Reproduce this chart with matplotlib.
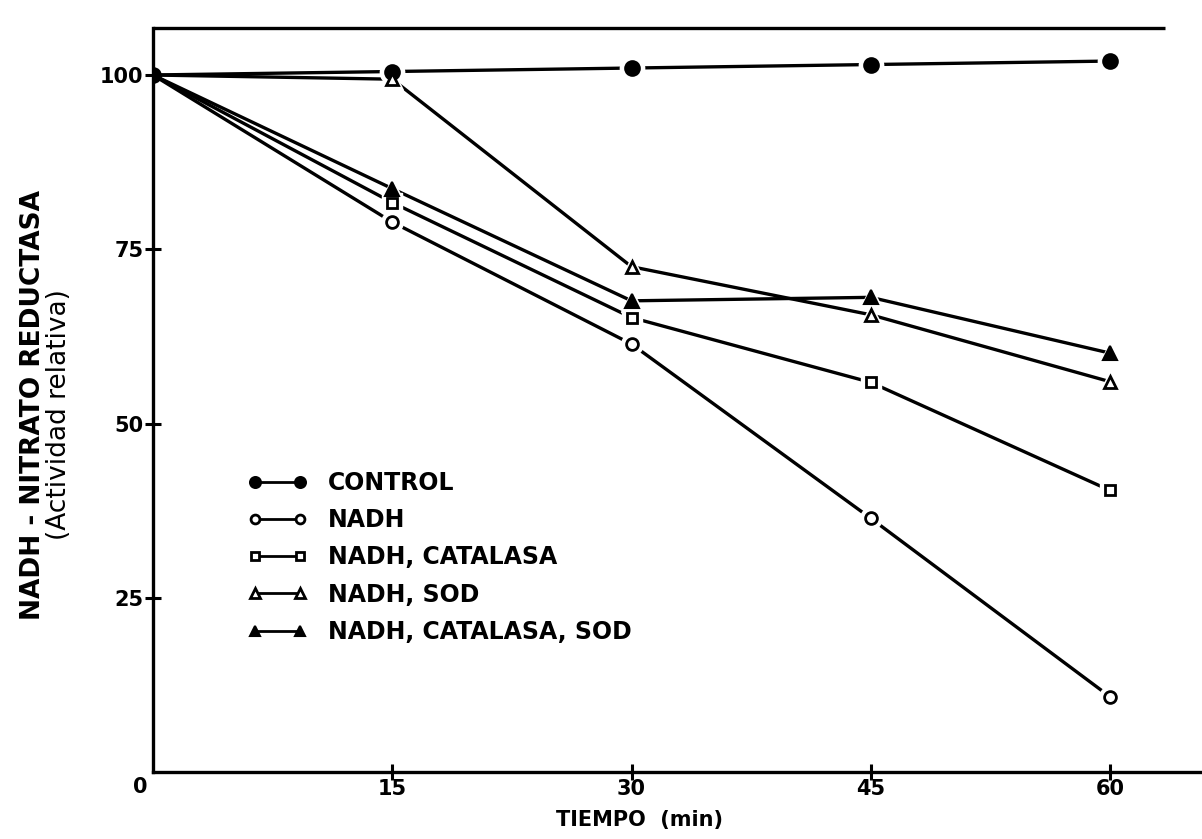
import matplotlib
matplotlib.use("Agg")
import matplotlib.pyplot as plt

# ---- data ----
time = [0, 15, 30, 45, 60]
control = [100, 100.5, 101, 101.5, 102]
nadh = [100, 78.9, 61.4, 36.4, 10.8]
nadh_cat = [100, 81.7, 65.2, 55.9, 40.4]
nadh_sod = [100, 99.4, 72.5, 65.6, 56.0]
nadh_cat_sod = [100, 83.7, 67.6, 68.1, 60.1]

labels = ["CONTROL", "NADH", "NADH, CATALASA", "NADH, SOD", "NADH, CATALASA, SOD"]
x_ticks = [15, 30, 45, 60]
y_ticks = [25, 50, 75, 100]

plt.rcParams['font.family'] = ['DejaVu Sans']
plt.rcParams['font.weight'] = 'bold'

W, H = 1202, 839
fig = plt.figure(figsize=(W / 100, H / 100), dpi=100)
fig.patch.set_facecolor('white')

x0, x1 = 153, 1202
y0, y1 = 772, 28
ax = fig.add_axes([x0 / W, 1 - y0 / H, (x1 - x0) / W, (y0 - y1) / H])
ax.set_xlim(0, (x1 - x0) / 15.95)
ax.set_ylim(0, (y0 - y1) / 6.97)

series = [
    (control, dict(marker='o', mfc='black', mec='black', ms=10.5, mew=1.5)),
    (nadh, dict(marker='o', mfc='white', mec='black', ms=8.5, mew=2.0)),
    (nadh_cat, dict(marker='s', mfc='white', mec='black', ms=7.5, mew=2.0)),
    (nadh_sod, dict(marker='^', mfc='white', mec='black', ms=9, mew=2.0)),
    (nadh_cat_sod, dict(marker='^', mfc='black', mec='black', ms=9.5, mew=1.5)),
]

lw = 2.4
for vals, st in series:
    ax.plot(time, vals, color='black', lw=lw, zorder=2, solid_capstyle='butt')
    # white halo to create gaps between lines and markers
    ax.plot(time[1:], vals[1:], ls='none', marker=st['marker'], mfc='white',
            mec='white', ms=st['ms'] + 7, zorder=3)

handles = []
for i, (vals, st) in enumerate(series):
    start = 0 if i == 0 else 1
    ax.plot(time[start:], vals[start:], ls='none', zorder=4, **st)
    h, = ax.plot([], [], color='black', lw=2.0, **st)
    handles.append(h)

leg = ax.legend(handles, labels, loc='upper left',
                bbox_to_anchor=((248 - x0) / (x1 - x0), (y0 - 471) / (y0 - y1)),
                frameon=False, numpoints=2, handlelength=2.5, handletextpad=0.9,
                labelspacing=0.56, borderpad=0, borderaxespad=0, markerscale=0.75,
                prop=dict(size=17, weight='bold'))

ax.spines['right'].set_visible(False)
ax.spines['top'].set_visible(False)
for s in ('left', 'bottom'):
    ax.spines[s].set_linewidth(2.4)
ax.plot([0, 0.965], [1, 1], transform=ax.transAxes, color='black', lw=2.4,
        clip_on=False, solid_capstyle='butt')

ax.set_xticks(x_ticks)
ax.set_xticklabels([str(v) for v in x_ticks])
ax.set_yticks(y_ticks)
ax.set_yticklabels([str(v) for v in y_ticks])
ax.tick_params(direction='inout', length=12, width=2.2, labelsize=15)
ax.tick_params(axis='x', pad=-1)
ax.tick_params(axis='y', pad=1)
for lab in ax.get_xticklabels() + ax.get_yticklabels():
    lab.set_fontweight('bold')

fig.text(140 / W, 1 - 787 / H, '0', ha='center', va='center', fontsize=15, fontweight='bold')
fig.text(640 / W, 1 - 820 / H, 'TIEMPO  (min)', ha='center', va='center', fontsize=15,
         fontweight='bold')
fig.text(33 / W, 1 - 405 / H, 'NADH - NITRATO REDUCTASA', rotation=90, ha='center',
         va='center', fontsize=19, fontweight='bold')
fig.text(59 / W, 1 - 415 / H, '(Actividad relativa)', rotation=90, ha='center',
         va='center', fontsize=19, fontweight='normal')

fig.savefig('out.png', dpi=100, facecolor='white')
